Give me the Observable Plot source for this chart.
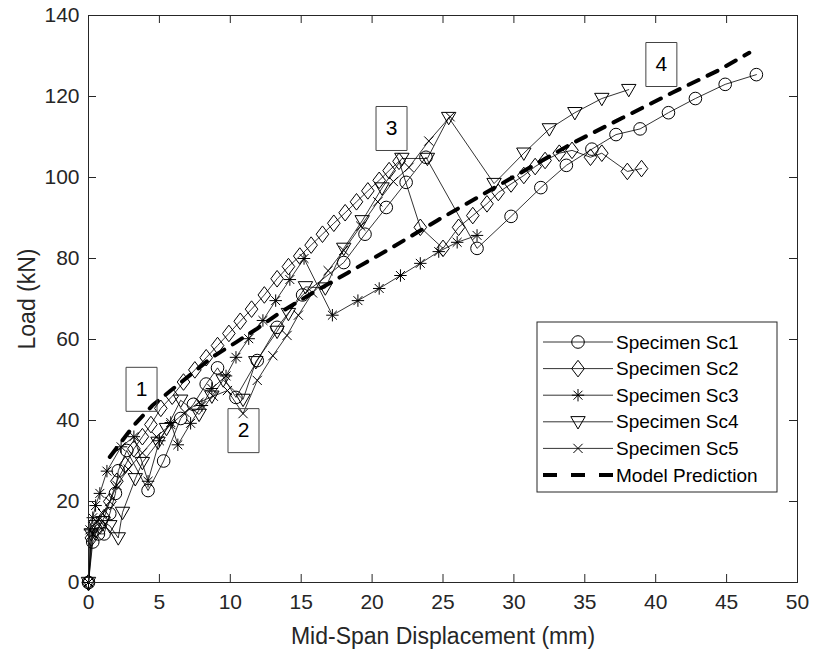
<!DOCTYPE html>
<html><head><meta charset="utf-8">
<script src="https://cdn.jsdelivr.net/npm/d3@7"></script>
<script src="https://cdn.jsdelivr.net/npm/@observablehq/plot@0.6"></script>
<style>
body{margin:0;background:#fff}
#chart{width:817px;height:658px}
</style>
</head><body><div id="chart"></div>
<script>
// ---- data ----
const sc1X = [0,0.3,0.7,1.1,1.5,1.9,2.1,2.7,4.2,5.3,6.5,7.4,8.3,9.1,10.4,11.9,13.3,15.1,18.0,19.5,21.0,22.4,23.8,27.4,29.8,31.9,33.7,35.5,37.2,38.9,40.9,42.8,44.9,47.1];
const sc1Y = [0,10,12,12,17,22,27.6,32.6,22.7,30,40.5,44,49,53,45.7,54.8,63,71,79,86,92.6,98.8,105,82.5,90.4,97.5,103,107,110.6,112,116,119.5,123,125.4];

const sc2X = [0,0.2,0.5,0.8,1.1,1.5,2,2.6,3.2,3.8,4.4,5.1,5.9,6.7,7.5,8.3,9.1,9.9,10.7,11.5,12.4,13.3,14.1,14.9,15.7,16.5,17.3,18.1,18.9,19.7,20.5,21.2,21.9,23.4,25,26.1,27.1,28.1,28.9,29.8,30.7,31.5,32.2,33.2,34.1,35.4,36.2,38,39];
const sc2Y = [0,11,13,14,16,20,25,29,33,36,39,43,46,49.5,52.5,55.5,58.5,61.5,64.5,67.5,71,75,78,80.6,83.3,86,88.7,91.3,94,96.7,99.3,101.7,104,87.7,82.5,87.7,90.6,93.5,96.3,98.4,100.5,102.7,104.2,106,106.7,105,106,101.5,102.2];

const sc3X = [0,0.1,0.3,0.5,0.8,1.3,2.3,3.2,4.2,5.0,5.8,6.3,7.2,8.0,8.7,9.7,10.4,11.3,12.3,13.2,14.2,15.2,17.2,19.0,20.5,22.0,23.4,24.7,26.0,27.4];
const sc3Y = [0,13,16,19,22,27.5,33.5,36,25,35,39.5,34,39.3,43.7,47.9,51,55.6,60.2,64.7,69.6,74.8,80,66,69.6,72.6,75.8,78.8,81.7,84,85.7];

const sc4X = [0,0.2,0.5,1.0,1.5,2.1,2.4,3.3,3.8,4.9,5.5,6.5,7.8,8.7,9.5,10.9,11.8,13.3,14.1,15.3,16.7,18.0,19.3,20.7,22.1,23.9,25.4,28.6,30.7,32.5,34.3,36.2,38.1];
const sc4Y = [0,12,14,15,14,11,17.3,25.6,29.6,34.6,38,45,41.5,46,50,45.2,54.5,62,66.4,73,72.7,82.5,89.3,97.4,104.7,104.7,114.8,98.5,106,112,116,119.5,121.7];

const sc5X = [0,0.3,0.6,1.0,1.5,2.0,2.8,3.8,4.8,5.8,6.8,7.8,8.8,9.8,10.9,11.9,13.0,14.0,14.8,15.8,16.9,18.0,19.2,20.4,21.5,22.6,24.0,25.5];
const sc5Y = [0,12,15,17,20,24,28,32,36,39,42,44.5,46,47.4,41.7,49.9,56,61,66,71.5,77,82,88,94,99,102.5,109,115];

const modelX = [1.5,3.2,4.5,5.8,7.3,8.7,10.4,11.9,13.4,15.8,18.3,21.4,24.6,27.9,31.0,34.2,37.7,41.2,44.4,46.6];
const modelY = [31,38.8,43.7,47.4,51.6,55.6,59.3,62.7,66.4,71.5,76.5,82.7,89.4,96,102.2,108.6,114.8,121,126.4,130.8];

const seriesNames = ["Specimen Sc1","Specimen Sc2","Specimen Sc3","Specimen Sc4","Specimen Sc5"];
const modelName = "Model Prediction";

const noteLabels = ["1","2","3","4"];
const noteX = [3.74,10.93,21.37,40.4];
const noteY = [47.7,37.5,112.1,127.9];

const xTicks = [0,5,10,15,20,25,30,35,40,45,50];
const yTicks = [0,20,40,60,80,100,120,140];
const xLabel = "Mid-Span Displacement (mm)";
const yLabel = "Load (kN)";

// ---- symbols (MATLAB-like markers) ----
const rOf = s => Math.sqrt(s/Math.PI);
const symCircle = {draw(c,s){const r=rOf(s); c.moveTo(r,0); c.arc(0,0,r,0,2*Math.PI);}};
const symDiamond = {draw(c,s){const r=rOf(s); const w=r*0.76; c.moveTo(0,-r); c.lineTo(w,0); c.lineTo(0,r); c.lineTo(-w,0); c.closePath();}};
const symStar = {draw(c,s){const r=rOf(s); const d=r*0.72; c.moveTo(-r,0);c.lineTo(r,0);c.moveTo(0,-r);c.lineTo(0,r);c.moveTo(-d,-d);c.lineTo(d,d);c.moveTo(-d,d);c.lineTo(d,-d);}};
const symTriDown = {draw(c,s){const r=rOf(s); c.moveTo(-r,-r*0.72); c.lineTo(r,-r*0.72); c.lineTo(0,r); c.closePath();}};
const symTimes = {draw(c,s){const r=rOf(s); c.moveTo(-r,-r);c.lineTo(r,r);c.moveTo(-r,r);c.lineTo(r,-r);}};
const symBox = {draw(c,s){c.rect(-15.5,-22,31,44);}};

const symbols = [symCircle, symDiamond, symStar, symTriDown, symTimes];
const symR = [6.3, 8.3, 6.2, 7.2, 4.6];

const allX = [sc1X, sc2X, sc3X, sc4X, sc5X];
const allY = [sc1Y, sc2Y, sc3Y, sc4Y, sc5Y];
const specimens = allX.map((xs,i)=>xs.map((x,j)=>({x, y: allY[i][j], s: seriesNames[i]})));
const model = modelX.map((x,i)=>({x, y: modelY[i]}));
const notes = noteLabels.map((t,i)=>({t, x: noteX[i], y: noteY[i]}));

const W=817, H=658, mL=88, mR=20, mT=15, mB=76;
const fw = W-mL-mR, fh = H-mT-mB;
const FONT = "'Liberation Sans', Arial, Helvetica, sans-serif";
const INK = "#262626";

const marks = [];
specimens.forEach((d,i)=>{
  marks.push(Plot.line(d, {x:"x", y:"y", stroke:"#000", strokeWidth:0.8}));
});
specimens.forEach((d,i)=>{
  marks.push(Plot.dot(d, {x:"x", y:"y", symbol: ()=>symbols[i], r: symR[i], stroke:"#000", fill:"none", strokeWidth:1}));
});
marks.push(Plot.line(model, {x:"x", y:"y", stroke:"#000", strokeWidth:4, strokeDasharray:"11,10"}));
marks.push(Plot.dot(notes, {x:"x", y:"y", symbol: ()=>symBox, r: 5, stroke:"#444", fill:"none", strokeWidth:1}));
marks.push(Plot.text(notes, {x:"x", y:"y", text:"t", fontSize:21, fill:"#000"}));
// frame & inward ticks (box on)
marks.push(Plot.frame({stroke: INK, strokeWidth:1}));
marks.push(Plot.tickX(xTicks, {x:d=>d, insetTop: fh-8, stroke: INK}));
marks.push(Plot.tickX(xTicks, {x:d=>d, insetBottom: fh-8, stroke: INK}));
marks.push(Plot.tickY(yTicks, {y:d=>d, insetRight: fw-8, stroke: INK}));
marks.push(Plot.tickY(yTicks, {y:d=>d, insetLeft: fw-8, stroke: INK}));
marks.push(Plot.axisX(xTicks, {anchor:"bottom", tickSize:0, tickPadding:12, label:null, fontSize:21, fill: INK}));
marks.push(Plot.axisY(yTicks, {anchor:"left", tickSize:0, tickPadding:9, label:null, fontSize:21, fill: INK}));
marks.push(Plot.text([xLabel], {text:d=>d, frameAnchor:"bottom", dy:54, lineAnchor:"middle", textAnchor:"middle", fontSize:23, fill: INK}));
marks.push(Plot.text([yLabel], {text:d=>d, frameAnchor:"left", rotate:-90, dx:-61, lineAnchor:"middle", textAnchor:"middle", fontSize:23, fill: INK}));

const chart = Plot.plot({
  width: W, height: H,
  marginLeft: mL, marginRight: mR, marginTop: mT, marginBottom: mB,
  x: {domain:[0,50], ticks: xTicks},
  y: {domain:[0,140], ticks: yTicks},
  style: {fontFamily: FONT, background:"#fff", color: INK, overflow:"visible"},
  marks
});
document.getElementById("chart").appendChild(chart);

// ---- legend inside the axes (MATLAB style) ----
const svg = d3.select(chart);
const lg = svg.append("g").attr("font-family", FONT).attr("font-size", 19).attr("text-anchor","start");
const lx = 537, ly = 322, lw = 240, lh = 170;
lg.append("rect").attr("x",lx).attr("y",ly).attr("width",lw).attr("height",lh)
  .attr("fill","#fff").attr("stroke", INK).attr("stroke-width",1);
const rowY = i => ly + 20 + i*26.6;
const names = seriesNames.concat([modelName]);
names.forEach((n,i)=>{
  const y = rowY(i);
  if (i < 5) {
    lg.append("line").attr("x1",lx+6).attr("x2",lx+76).attr("y1",y).attr("y2",y).attr("stroke","#000").attr("stroke-width",0.8);
    const s = symR[i];
    lg.append("path").attr("d", d3.symbol().type(symbols[i]).size(Math.PI*s*s)())
      .attr("transform",`translate(${lx+41},${y})`).attr("fill","none").attr("stroke","#000").attr("stroke-width",1);
  } else {
    lg.append("line").attr("x1",lx+6).attr("x2",lx+76).attr("y1",y).attr("y2",y).attr("stroke","#000").attr("stroke-width",4).attr("stroke-dasharray","14,14");
  }
  lg.append("text").attr("x",lx+79).attr("y",y).attr("dy","0.35em").attr("fill","#000").text(n);
});
</script>
</body></html>
